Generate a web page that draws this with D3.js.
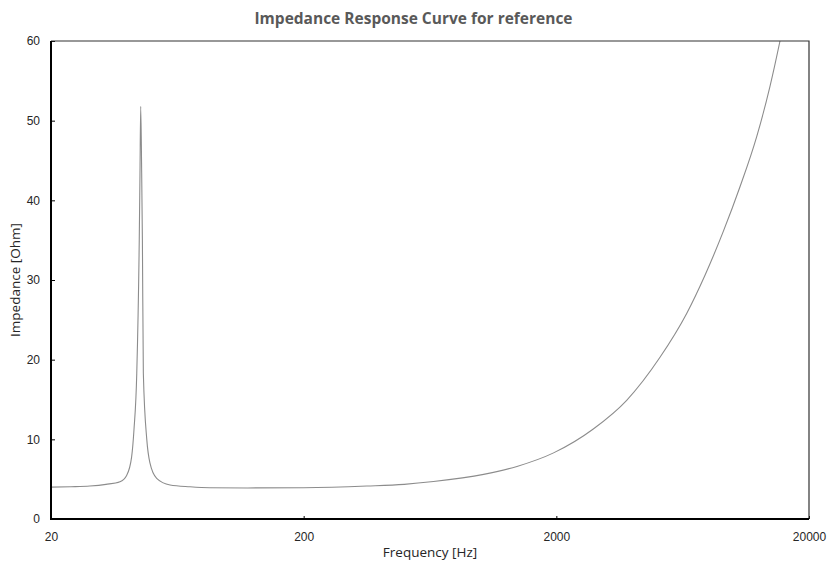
<!DOCTYPE html>
<html>
<head>
<meta charset="utf-8">
<script src="https://cdn.jsdelivr.net/npm/d3@7"></script>
<style>
  body { margin: 0; background: #fff; }
  svg { display: block; font-family: "Open Sans", "Noto Sans", sans-serif; }
</style>
</head>
<body>
<svg id="chart" width="827" height="574"></svg>
<script>
// values
const freqHz = [20, 24, 28.5, 33, 37.5, 39.9, 41.7, 42.6, 43.7, 44.7, 45.0, 45.3, 45.7, 46.0, 46.4,
  47.9, 49.3, 52.4, 59.2, 71, 85, 120, 200, 356, 500, 653, 1031, 1397, 1950, 2801,
  3797, 5144, 6560, 7752, 9160, 10664, 12418, 14016, 15355, 17000];
const impedanceOhm = [4.0, 4.05, 4.14, 4.35, 4.68, 5.5, 7.8, 11.2, 18.3, 35, 43.4, 51.8, 43.4, 35, 18.3,
  9.9, 7.0, 5.1, 4.27, 4.05, 3.93, 3.9, 3.93, 4.14, 4.35, 4.7, 5.6, 6.6, 8.3, 11.3,
  14.9, 20.3, 25.8, 30.6, 36.1, 41.7, 48.0, 54.3, 60, 67.0];
const xTicks = [20, 200, 2000, 20000];
const yTicks = [0, 10, 20, 30, 40, 50, 60];

const data = freqHz.map((f, i) => ({ f, z: impedanceOhm[i] }));

const margin = { top: 41, right: 18, bottom: 55, left: 51 };
const width = 827, height = 574;

const svg = d3.select("#chart");

const x = d3.scaleLog()
  .domain([20, 20000])
  .range([margin.left, width - margin.right]);

const y = d3.scaleLinear()
  .domain([0, 60])
  .range([height - margin.bottom, margin.top]);

svg.append("defs").append("clipPath")
  .attr("id", "plot-clip")
  .append("rect")
  .attr("x", margin.left)
  .attr("y", margin.top)
  .attr("width", x.range()[1] - margin.left)
  .attr("height", y.range()[0] - margin.top);

// curve
const line = d3.line()
  .x(d => x(d.f))
  .y(d => y(d.z))
  .curve(d3.curveMonotoneX);

svg.append("path")
  .datum(data)
  .attr("clip-path", "url(#plot-clip)")
  .attr("fill", "none")
  .attr("stroke", "#8c8c8c")
  .attr("stroke-width", 1.1)
  .attr("d", line);

// axes
const xAxis = d3.axisBottom(x)
  .tickValues(xTicks)
  .tickFormat(d3.format("d"))
  .tickSize(-3)
  .tickPadding(13);

const yAxis = d3.axisLeft(y)
  .tickValues(yTicks)
  .tickSize(-4)
  .tickPadding(11);

const gx = svg.append("g")
  .attr("transform", `translate(0,${y(0)})`)
  .call(xAxis);

const gy = svg.append("g")
  .attr("transform", `translate(${margin.left},0)`)
  .call(yAxis);

[gx, gy].forEach(g => {
  g.select(".domain").remove();
  g.selectAll(".tick line").attr("stroke", "#000").attr("stroke-width", 1);
  g.selectAll(".tick text")
    .attr("fill", "#262626")
    .style("font-size", "12px");
});

// frame: thin top/right, heavy left/bottom
const [x0, x1] = x.range();
const [y0, y1] = y.range();
svg.append("path")
  .attr("d", `M${x0},${y1}H${x1}V${y0}`)
  .attr("fill", "none")
  .attr("stroke", "#333")
  .attr("stroke-width", 1.2);
svg.append("path")
  .attr("d", `M${x0},${y1}V${y0}H${x1}`)
  .attr("fill", "none")
  .attr("stroke", "#000")
  .attr("stroke-width", 2);

// titles
svg.append("text")
  .attr("x", width / 2)
  .attr("y", 24)
  .attr("text-anchor", "middle")
  .attr("fill", "#595959")
  .style("font-size", "15.5px")
  .style("font-weight", "bold")
  .text("Impedance Response Curve for reference");

svg.append("text")
  .attr("x", (x0 + x1) / 2)
  .attr("y", 557)
  .attr("text-anchor", "middle")
  .attr("fill", "#262626")
  .style("font-size", "13.5px")
  .text("Frequency [Hz]");

svg.append("text")
  .attr("transform", `translate(20,${(y0 + y1) / 2}) rotate(-90)`)
  .attr("text-anchor", "middle")
  .attr("fill", "#262626")
  .style("font-size", "13.5px")
  .text("Impedance [Ohm]");
</script>
</body>
</html>
